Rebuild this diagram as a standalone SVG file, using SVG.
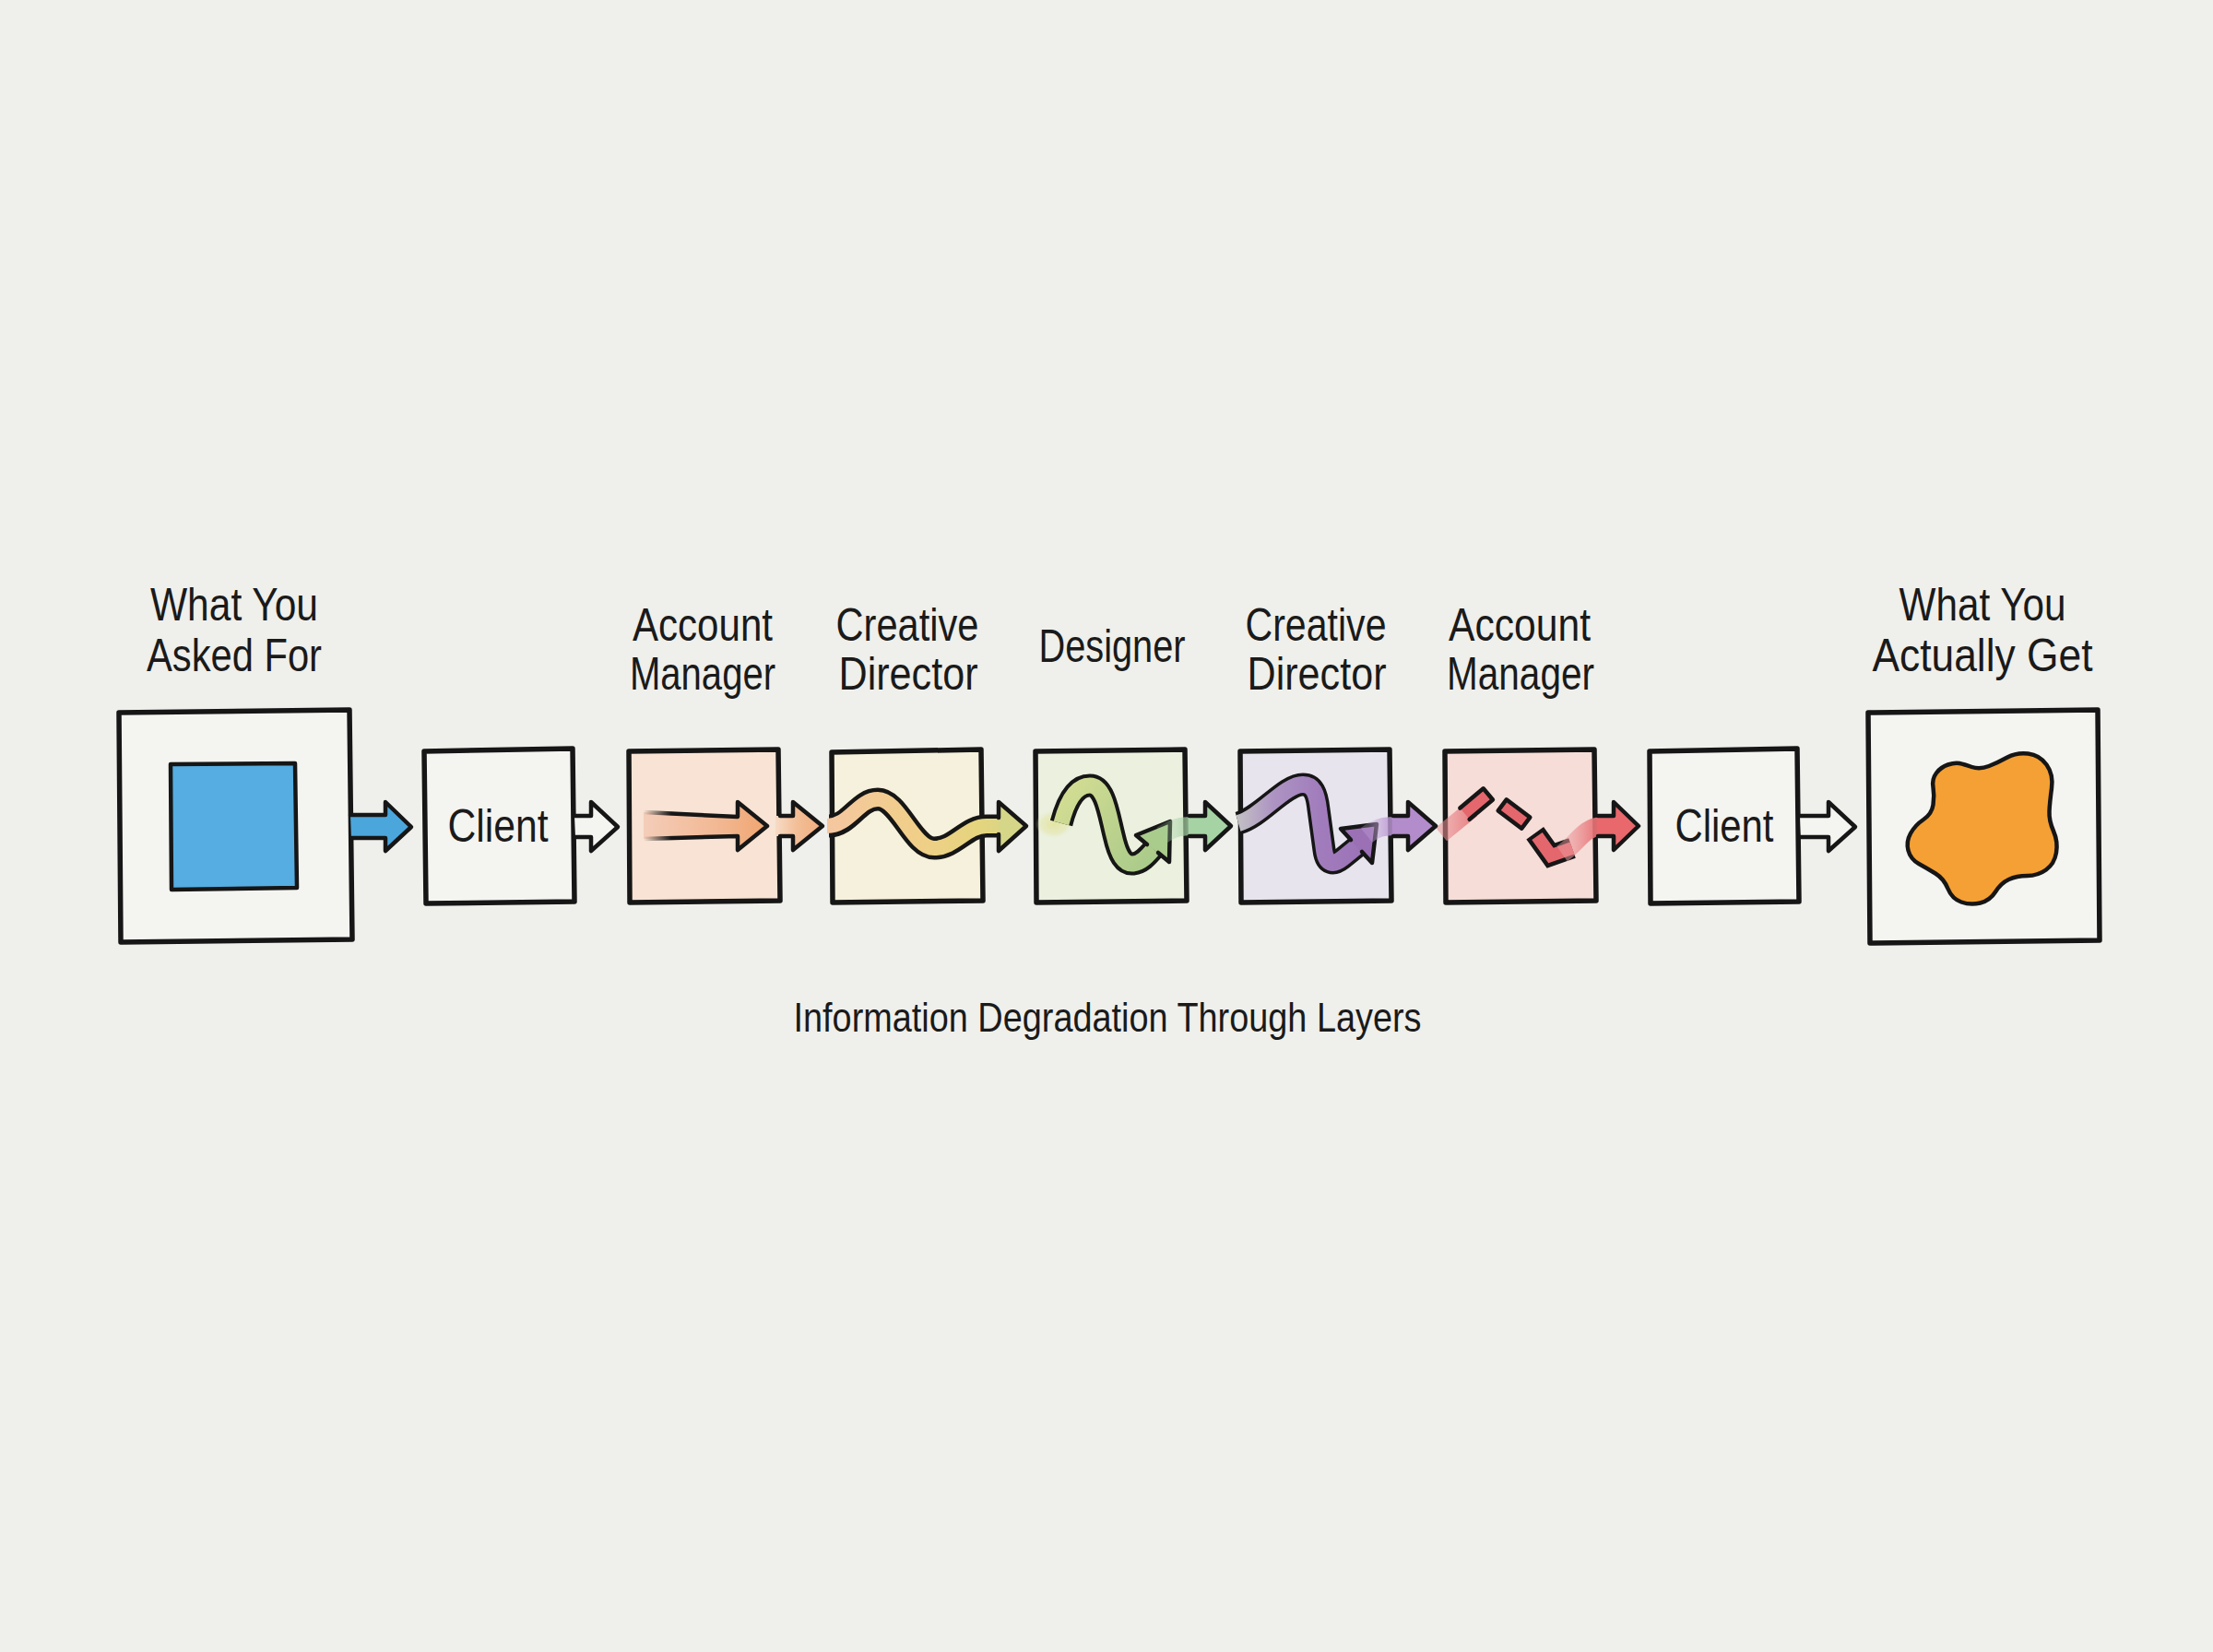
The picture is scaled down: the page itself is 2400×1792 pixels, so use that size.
<svg xmlns="http://www.w3.org/2000/svg" width="2400" height="1792" viewBox="0 0 2400 1792">
<defs>
<style>
.box{stroke:#161616;stroke-width:5.5;stroke-linejoin:round}
.ol{stroke:#161616;stroke-width:4.5;stroke-linejoin:round;stroke-linecap:round}
.lbl{font-family:"Liberation Sans","DejaVu Sans",sans-serif;font-size:50px;fill:#1a1a1a;text-anchor:middle}
.ttl{font-family:"Liberation Sans","DejaVu Sans",sans-serif;font-size:45px;fill:#1a1a1a;text-anchor:middle}
.band-k{fill:none;stroke:#161616;stroke-width:25}
</style>
<linearGradient id="gAM1" gradientUnits="userSpaceOnUse" x1="698" y1="0" x2="832" y2="0">
<stop offset="0" stop-color="#f4cdb9"/><stop offset="0.6" stop-color="#f2b893"/><stop offset="1" stop-color="#f0a570"/>
</linearGradient>
<linearGradient id="fadeL" gradientUnits="userSpaceOnUse" x1="698" y1="0" x2="728" y2="0">
<stop offset="0" stop-color="#161616" stop-opacity="0"/><stop offset="1" stop-color="#161616" stop-opacity="1"/>
</linearGradient>
<linearGradient id="gC3" gradientUnits="userSpaceOnUse" x1="840" y1="0" x2="892" y2="0">
<stop offset="0" stop-color="#f7dcc8"/><stop offset="0.45" stop-color="#f3bf98"/><stop offset="1" stop-color="#f1ad7c"/>
</linearGradient>
<linearGradient id="gCD1" gradientUnits="userSpaceOnUse" x1="899" y1="0" x2="1113" y2="0">
<stop offset="0" stop-color="#f5c7a0"/><stop offset="0.45" stop-color="#f0cf88"/><stop offset="0.75" stop-color="#e5d47e"/><stop offset="1" stop-color="#d3d688"/>
</linearGradient>
<radialGradient id="rYel" cx="0.5" cy="0.5" r="0.5">
<stop offset="0" stop-color="#e2e39a" stop-opacity="0.85"/><stop offset="0.7" stop-color="#e4e5a4" stop-opacity="0.5"/><stop offset="1" stop-color="#e8ebc0" stop-opacity="0"/>
</radialGradient>
<linearGradient id="gDes" gradientUnits="userSpaceOnUse" x1="1150" y1="850" x2="1268" y2="935">
<stop offset="0" stop-color="#d5de93"/><stop offset="0.5" stop-color="#bcd28d"/><stop offset="1" stop-color="#a5c98a"/>
</linearGradient>
<linearGradient id="gDesC" gradientUnits="userSpaceOnUse" x1="1262" y1="0" x2="1300" y2="0">
<stop offset="0" stop-color="#a6d3a4" stop-opacity="0.2"/><stop offset="1" stop-color="#a6d3a4" stop-opacity="1"/>
</linearGradient>
<linearGradient id="gCD2" gradientUnits="userSpaceOnUse" x1="1343" y1="0" x2="1492" y2="0">
<stop offset="0" stop-color="#c2bfc4"/><stop offset="0.25" stop-color="#ad94c2"/><stop offset="0.6" stop-color="#a17cbc"/><stop offset="1" stop-color="#9a70b6"/>
</linearGradient>
<linearGradient id="gCD2C" gradientUnits="userSpaceOnUse" x1="1484" y1="0" x2="1515" y2="0">
<stop offset="0" stop-color="#c9addc" stop-opacity="0.3"/><stop offset="1" stop-color="#b38ccc" stop-opacity="1"/>
</linearGradient>
<linearGradient id="gAM2a" gradientUnits="userSpaceOnUse" x1="1565" y1="0" x2="1598" y2="0">
<stop offset="0" stop-color="#e98e92" stop-opacity="0.55"/><stop offset="1" stop-color="#e77a7e" stop-opacity="0.95"/>
</linearGradient>
<linearGradient id="gAM2C" gradientUnits="userSpaceOnUse" x1="1694" y1="0" x2="1736" y2="0">
<stop offset="0" stop-color="#eca2a4" stop-opacity="0.45"/><stop offset="1" stop-color="#e8686c" stop-opacity="1"/>
</linearGradient>
</defs>

<rect x="0" y="0" width="2400" height="1792" fill="#efefeb"/>

<g id="node-asked">
<path class="box" fill="#f4f4f1" d="M129,773 L379,770 L382,1019 L131,1022 Z"/>
<path class="ol" fill="#55ade1" d="M185,829 L320,828 L322,963 L186,965 Z"/>
<text class="lbl" x="254" y="673" textLength="182" lengthAdjust="spacingAndGlyphs">What You</text>
<text class="lbl" x="254" y="728" textLength="190" lengthAdjust="spacingAndGlyphs">Asked For</text>
</g>

<g id="node-client1">
<path class="box" fill="#f4f4f1" d="M460,815 L621,812 L623,978 L462,980 Z"/>
<text class="lbl" x="540" y="913" textLength="109" lengthAdjust="spacingAndGlyphs">Client</text>
</g>

<g id="node-am1">
<path class="box" fill="#f8e3d4" d="M682,815 L844,813 L846,977 L683,979 Z"/>
<path fill="url(#gAM1)" d="M698,881 L800,886 L800,870 L832,896 L800,922 L800,907 L698,910 Z"/>
<path fill="none" stroke="url(#fadeL)" stroke-width="4.5" stroke-linejoin="round" stroke-linecap="round" d="M698,881 L800,886 L800,870 L832,896 L800,922 L800,907 L698,910"/>
<text class="lbl" x="762" y="695" textLength="152" lengthAdjust="spacingAndGlyphs">Account</text>
<text class="lbl" x="762" y="748" textLength="158" lengthAdjust="spacingAndGlyphs">Manager</text>
</g>

<g id="node-cd1">
<path class="box" fill="#f6f1dc" d="M902,816 L1064,813 L1066,977 L903,979 Z"/>
<text class="lbl" x="984" y="695" textLength="155" lengthAdjust="spacingAndGlyphs">Creative</text>
<text class="lbl" x="985" y="748" textLength="151" lengthAdjust="spacingAndGlyphs">Director</text>
</g>

<g id="node-designer">
<path class="box" fill="#ebf0df" d="M1123,815 L1285,813 L1287,977 L1124,979 Z"/>
<ellipse cx="1143" cy="894" rx="20" ry="15" fill="url(#rYel)"/>
<path class="band-k" stroke-width="26" d="M1151,893 C1158,866 1168,852 1182,852 C1198,852 1202,882 1208,906 C1213,928 1219,938 1229,937 C1238,936 1244,929 1251,921"/>
<path fill="none" stroke="url(#gDes)" stroke-width="17" d="M1151,893 C1158,866 1168,852 1182,852 C1198,852 1202,882 1208,906 C1213,928 1219,938 1229,937 C1238,936 1244,929 1251,921"/>
<path class="ol" fill="#a9cb8b" d="M1244,916 L1232,906 L1269,891 L1268,935 L1256,925"/>
<text class="lbl" x="1206" y="718" textLength="159" lengthAdjust="spacingAndGlyphs">Designer</text>
</g>

<g id="node-cd2">
<path class="box" fill="#e8e4ee" d="M1345,815 L1507,813 L1509,977 L1346,979 Z"/>
<path class="band-k" stroke-width="27" d="M1343,893 C1368,886 1393,851 1413,851 C1424,851 1428,860 1430,878 L1436,922 C1438,938 1446,939 1456,931 L1472,918"/>
<path fill="none" stroke="url(#gCD2)" stroke-width="18" d="M1343,893 C1368,886 1393,851 1413,851 C1424,851 1428,860 1430,878 L1436,922 C1438,938 1446,939 1456,931 L1472,918"/>
<path class="ol" fill="#9b70b5" d="M1465,911 L1454,899 L1493,894 L1488,936 L1477,924"/>
<text class="lbl" x="1427" y="695" textLength="153" lengthAdjust="spacingAndGlyphs">Creative</text>
<text class="lbl" x="1428" y="748" textLength="151" lengthAdjust="spacingAndGlyphs">Director</text>
</g>

<g id="node-am2">
<path class="box" fill="#f6ddd8" d="M1567,815 L1729,813 L1731,977 L1568,979 Z"/>
<path fill="none" stroke="url(#gAM2a)" stroke-width="19" d="M1563,905 L1596,878"/>
<g transform="translate(1600,873) rotate(-40)">
<path class="ol" fill="#e4676d" d="M-15,-8 L18,-8 L18,8 L-15,8"/>
</g>
<g transform="translate(1642,883) rotate(37)">
<path class="ol" fill="#e4676d" d="M-16,-7.5 L16,-7.5 L16,7.5 L-16,7.5 Z"/>
</g>
<path fill="none" stroke="#161616" stroke-width="23" stroke-linejoin="miter" d="M1664.7,903.8 L1682,928 L1705,920"/>
<path fill="none" stroke="#e4676d" stroke-width="14" stroke-linejoin="miter" d="M1667,907 L1682,928 L1705,920"/>
<text class="lbl" x="1648" y="695" textLength="154" lengthAdjust="spacingAndGlyphs">Account</text>
<text class="lbl" x="1649" y="748" textLength="160" lengthAdjust="spacingAndGlyphs">Manager</text>
</g>

<g id="node-client2">
<path class="box" fill="#f4f4f1" d="M1789,815 L1949,812 L1951,978 L1790,980 Z"/>
<text class="lbl" x="1870" y="913" textLength="107" lengthAdjust="spacingAndGlyphs">Client</text>
</g>

<g id="node-get">
<path class="box" fill="#f4f4f1" d="M2026,773 L2275,770 L2277,1020 L2028,1023 Z"/>
<path class="ol" stroke-width="5" fill="#f5a034" d="M2125,828 Q2130,829 2138.5,832 Q2147,835 2157,831 Q2167,827 2177,821.5 Q2187,816 2199.5,817.5 Q2212,819 2219.5,829.5 Q2227,840 2225,855 Q2223,870 2222.5,880 Q2222,890 2227,901.5 Q2232,913 2230,925 Q2228,937 2219,943.5 Q2210,950 2198.5,950 Q2187,950 2178.5,954 Q2170,958 2164,967.5 Q2158,977 2147.5,979.5 Q2137,982 2127,978.5 Q2117,975 2112.5,964 Q2108,953 2099,947.5 Q2090,942 2081,937 Q2072,932 2069.5,922.5 Q2067,913 2072,904 Q2077,895 2086,889 Q2095,883 2096.5,873 Q2098,863 2096.5,854 Q2095,845 2100,838.5 Q2105,832 2112.5,829.5 Q2120,827 2125,828 Z"/>
<text class="lbl" x="2150" y="673" textLength="181" lengthAdjust="spacingAndGlyphs">What You</text>
<text class="lbl" x="2150" y="728" textLength="239" lengthAdjust="spacingAndGlyphs">Actually Get</text>
</g>

<g id="connectors">
<path class="ol" fill="#4ba6dc" d="M380,884 L418,884 L418,870 L446,897 L418,923 L418,909 L381,909"/>
<path class="ol" fill="#f4f4f1" d="M623,885 L641,885 L641,870 L670,897 L641,923 L641,908 L624,908"/>
<path fill="url(#gC3)" d="M841,885 L860,885 L860,870 L892,896 L860,922 L860,907 L841,907 Z"/>
<path class="ol" fill="none" d="M846,885 L860,885 L860,870 L892,896 L860,922 L860,907 L846,907"/>
<path class="band-k" stroke-width="25" d="M899,896 C921,896 931,867 952,867 C975,867 990,920 1013,920 C1036,920 1048,896 1070,896 L1088,896"/>
<path fill="none" stroke="url(#gCD1)" stroke-width="16" d="M897,896 C921,896 931,867 952,867 C975,867 990,920 1013,920 C1036,920 1048,896 1070,896 L1088,896"/>
<path class="ol" fill="#d6d688" d="M1083,887 L1083,870 L1113,896 L1083,923 L1083,905"/>
<path fill="none" stroke="url(#gDesC)" stroke-width="20" d="M1260,906 C1272,898 1280,896 1294,896"/>
<path fill="#a6d3a4" d="M1289,885 L1307,885 L1307,870 L1335,896 L1307,922 L1307,907 L1289,907 Z"/>
<path class="ol" fill="none" d="M1290,885 L1307,885 L1307,870 L1335,896 L1307,922 L1307,907 L1290,907"/>
<path fill="none" stroke="url(#gCD2C)" stroke-width="20" d="M1482,906 C1492,898 1500,896 1514,896"/>
<path fill="#b38ccc" d="M1510,885 L1527,885 L1527,870 L1557,896 L1527,922 L1527,907 L1510,907 Z"/>
<path class="ol" fill="none" d="M1511,885 L1527,885 L1527,870 L1557,896 L1527,922 L1527,907 L1511,907"/>
<path fill="none" stroke="url(#gAM2C)" stroke-width="20" d="M1694,926 C1710,915 1718,897 1737,896"/>
<path fill="#e8686c" d="M1732,885 L1750,885 L1750,870 L1777,896 L1750,922 L1750,907 L1732,907 Z"/>
<path class="ol" fill="none" d="M1733,885 L1750,885 L1750,870 L1777,896 L1750,922 L1750,907 L1733,907"/>
<path class="ol" fill="#f4f4f1" d="M1952,885 L1983,885 L1983,870 L2012,897 L1983,923 L1983,908 L1953,908"/>
</g>

<text id="title" class="ttl" x="1201" y="1119" textLength="681" lengthAdjust="spacingAndGlyphs">Information Degradation Through Layers</text>
</svg>
